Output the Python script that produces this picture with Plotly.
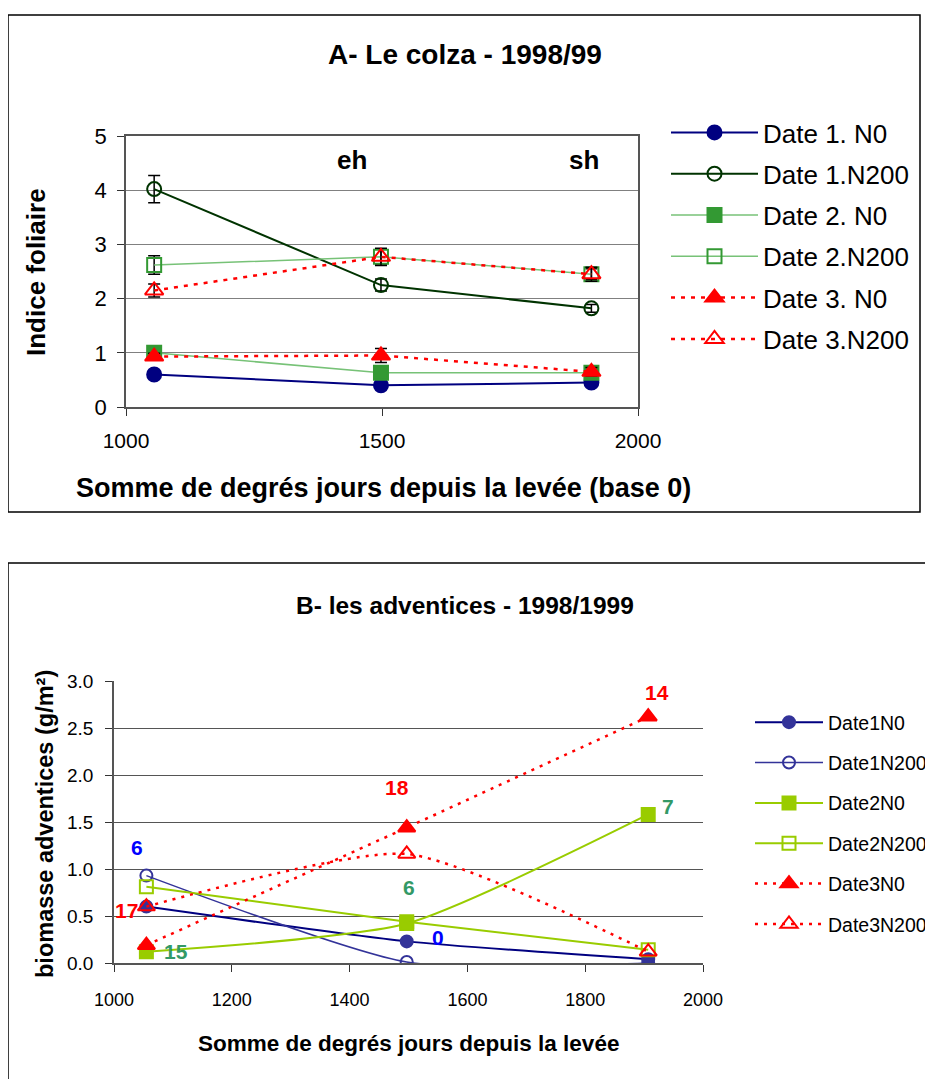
import plotly.graph_objects as go

# ---------------- Data: chart A (leaf index) ----------------
x_a = [1055, 1498, 1909]
a_names = ["Date 1. N0", "Date 1.N200", "Date 2. N0", "Date 2.N200", "Date 3. N0", "Date 3.N200"]
a_d1n0 = [0.60, 0.40, 0.45]
a_d1n200 = [4.02, 2.25, 1.82]
a_d2n0 = [1.00, 0.63, 0.63]
a_d2n200 = [2.62, 2.77, 2.45]
a_d3n0 = [0.93, 0.95, 0.65]
a_d3n200 = [2.15, 2.77, 2.45]
a_err_d1n0 = [0.04, 0.04, 0.04]
a_err_d1n200 = [0.25, 0.11, 0.07]
a_err_d2n0 = [0.06, 0.06, 0.06]
a_err_d2n200 = [0.17, 0.15, 0.10]
a_err_d3n0 = [0.06, 0.13, 0.08]
a_err_d3n200 = [0.12, 0.16, 0.13]
stage_labels = ["eh", "sh"]
stage_x = [1441, 1895]
stage_y = [4.56, 4.56]

# ---------------- Data: chart B (weed biomass) ----------------
x_b = [1055, 1497, 1907]
b_names = ["Date1N0", "Date1N200", "Date2N0", "Date2N200", "Date3N0", "Date3N200"]
b_d1n0 = [0.60, 0.23, 0.04]
b_d1n200 = [0.93, 0.01, 0.00]
b_d2n0 = [0.12, 0.42, 1.58]
b_d2n200 = [0.81, 0.44, 0.14]
b_d3n0 = [0.19, 1.44, 2.62]
b_d3n200 = [0.60, 1.16, 0.12]
num_labels = ["6", "17", "15", "18", "6", "0", "14", "7"]
num_x = [1039, 1022, 1106, 1480, 1501, 1550, 1922, 1940]
num_y = [1.23, 0.56, 0.12, 1.87, 0.80, 0.27, 2.88, 1.67]
num_colors = ["#0000FF", "#FF0000", "#339966", "#FF0000", "#339966", "#0000FF", "#FF0000", "#339966"]

FONT = "Arial, Liberation Sans, Helvetica, sans-serif"
# page body has an 8px margin: figure placed at (8, 8) in the window
OFF = 8
W, H = 933 - OFF, 1079 - OFF


def px(xpix):
    return (xpix - OFF) / W


def py(ypix):
    return 1 - (ypix - OFF) / H


fig = go.Figure()


def err(vals):
    return dict(type="data", array=vals, visible=True, color="black", thickness=1.5, width=6)


a_styles = [
    (a_d1n0, a_err_d1n0, "#000080", "#000080", "circle", 14, "solid", 2),
    (a_d1n200, a_err_d1n200, "#003300", "#003300", "circle-open", 14, "solid", 2),
    (a_d2n0, a_err_d2n0, "#77C277", "#339933", "square", 14, "solid", 1.5),
    (a_d2n200, a_err_d2n200, "#77C277", "#339933", "square-open", 14, "solid", 1.5),
    (a_d3n0, a_err_d3n0, "#FF0000", "#FF0000", "triangle-up", 16, "4px,6px", 2.5),
    (a_d3n200, a_err_d3n200, "#FF0000", "#FF0000", "triangle-up-open", 16, "4px,6px", 2.5),
]
for i, (yv, ev, lc, mc, sym, ms, dash, lw) in enumerate(a_styles):
    fig.add_trace(go.Scatter(
        x=x_a, y=yv, name=a_names[i], mode="lines+markers",
        line=dict(color=lc, width=lw, dash=dash),
        marker=dict(symbol=sym, size=ms, color=mc, line=dict(color=mc, width=2)),
        error_y=err(ev), xaxis="x", yaxis="y",
        legend="legend", legendgroup="a%d" % i,
    ))

b_styles = [
    (b_d1n0, "#000080", "#333399", "circle", 12, "solid", 2),
    (b_d1n200, "#333399", "#333399", "circle-open", 12, "solid", 1.5),
    (b_d2n0, "#99CC00", "#99CC00", "square", 13, "solid", 2),
    (b_d2n200, "#99CC00", "#99CC00", "square-open", 13, "solid", 2),
    (b_d3n0, "#FF0000", "#FF0000", "triangle-up", 15, "3px,6px", 2.5),
    (b_d3n200, "#FF0000", "#FF0000", "triangle-up-open", 15, "3px,6px", 2.5),
]
for i, (yv, lc, mc, sym, ms, dash, lw) in enumerate(b_styles):
    fig.add_trace(go.Scatter(
        x=x_b, y=yv, name=b_names[i], mode="lines+markers",
        line=dict(color=lc, width=lw, dash=dash, shape="spline", smoothing=0.6),
        marker=dict(symbol=sym, size=ms, color=mc, line=dict(color=mc, width=2)),
        xaxis="x2", yaxis="y2",
        legend="legend2", legendgroup="b%d" % i,
    ))


def ann(text, x, y, size, angle=0, color="black"):
    return dict(text="<b>%s</b>" % text, xref="paper", yref="paper", x=px(x), y=py(y),
                showarrow=False, textangle=angle, xanchor="center", yanchor="middle",
                font=dict(size=size, family=FONT, color=color))


annotations = [
    ann("A- Le colza - 1998/99", 465, 55, 28),
    ann("Somme de degrés jours depuis la levée (base 0)", 383, 488, 27),
    ann("Indice foliaire", 36, 272, 26, angle=-90),
    ann("B- les adventices - 1998/1999", 465, 605, 24.5),
    ann("Somme de degrés jours depuis la levée", 408, 1043, 22.5),
    ann("biomasse adventices (g/m²)", 45, 824, 23.5, angle=-90),
]
for t, xx, yy in zip(stage_labels, stage_x, stage_y):
    annotations.append(dict(text="<b>%s</b>" % t, x=xx, y=yy, xref="x", yref="y", showarrow=False,
                            font=dict(size=26, family=FONT, color="black")))
for t, xx, yy, c in zip(num_labels, num_x, num_y, num_colors):
    annotations.append(dict(text="<b>%s</b>" % t, x=xx, y=yy, xref="x2", yref="y2", showarrow=False,
                            font=dict(size=21, family=FONT, color=c)))

shapes = [
    dict(type="rect", xref="paper", yref="paper", x0=px(8), x1=px(920), y0=py(512), y1=py(15),
         line=dict(color="black", width=1.5), fillcolor="rgba(0,0,0,0)", layer="below"),
    dict(type="rect", xref="paper", yref="paper", x0=px(8), x1=1.05, y0=-0.05, y1=py(563),
         line=dict(color="black", width=1.5), fillcolor="rgba(0,0,0,0)", layer="below"),
]

fig.update_layout(
    width=W, height=H,
    margin=dict(l=0, r=0, t=0, b=0, autoexpand=False),
    paper_bgcolor="white", plot_bgcolor="white",
    font=dict(family=FONT, color="black"),
    showlegend=True,
    annotations=annotations,
    shapes=shapes,
    xaxis=dict(domain=[px(126), px(638)], anchor="y", range=[1000, 2000],
               tickvals=[1000, 1500, 2000], ticks="outside", ticklen=7, tickcolor="#333",
               ticklabelstandoff=7,
               showline=True, linecolor="#555", linewidth=1.5, mirror=True, showgrid=False, zeroline=False,
               tickfont=dict(size=21, family=FONT), automargin=False),
    yaxis=dict(domain=[py(407), py(136)], anchor="x", range=[0, 5], dtick=1,
               ticks="outside", ticklen=7, tickcolor="#333", ticklabelstandoff=6,
               showline=True, linecolor="#555", linewidth=1.5, mirror=True,
               showgrid=True, gridcolor="#808080", gridwidth=1, zeroline=False,
               tickfont=dict(size=22, family=FONT), automargin=False),
    xaxis2=dict(domain=[px(114), px(703)], anchor="y2", range=[1000, 2000], dtick=200,
                ticks="outside", ticklen=7, tickcolor="#333", ticklabelstandoff=13,
                showline=True, linecolor="#555", linewidth=1.5, showgrid=False, zeroline=False,
                tickfont=dict(size=18, family=FONT), automargin=False),
    yaxis2=dict(domain=[py(963), py(681)], anchor="x2", range=[0, 3], dtick=0.5,
                tickformat=".1f", ticks="outside", ticklen=7, tickcolor="#333", ticklabelstandoff=8,
                showline=True, linecolor="#555", linewidth=1.5,
                showgrid=True, gridcolor="#555", gridwidth=1, zeroline=False,
                tickfont=dict(size=19, family=FONT), automargin=False),
    legend=dict(x=px(666), y=py(109), xanchor="left", yanchor="top",
                font=dict(size=26, family=FONT), traceorder="grouped", tracegroupgap=4.5,
                bgcolor="rgba(0,0,0,0)", itemwidth=87),
    legend2=dict(x=px(750), y=py(703), xanchor="left", yanchor="top",
                 font=dict(size=19.5, family=FONT), traceorder="grouped", tracegroupgap=12,
                 bgcolor="rgba(0,0,0,0)", itemwidth=68),
)

fig.write_html("out.html")
